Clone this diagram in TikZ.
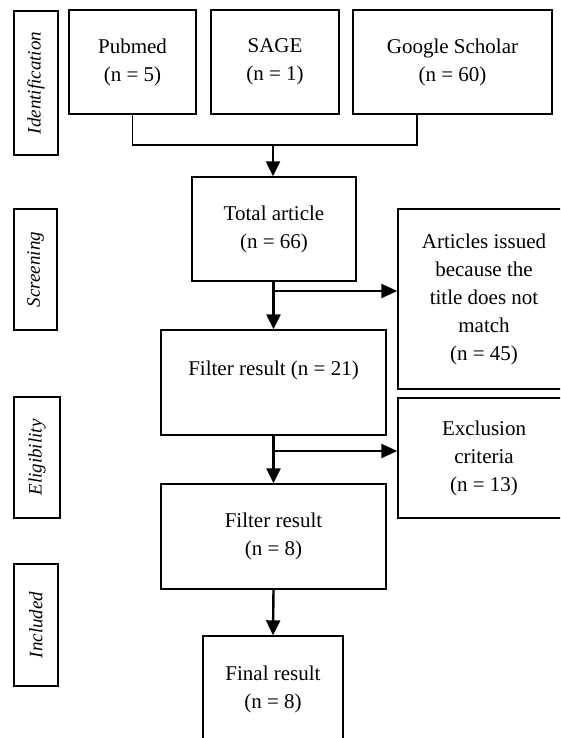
\documentclass[tikz,border=0pt]{standalone}
\usepackage{fontspec}
\setmainfont{Liberation Serif}
\usetikzlibrary{arrows.meta}
\begin{document}
\begin{tikzpicture}[x=1pt,y=-1pt,
  box/.style={draw,line width=1.4pt,align=center,inner sep=0pt,font=\fontsize{21}{28}\selectfont},
  side/.style={draw,line width=2.4pt,rotate=90,inner sep=0pt,font=\fontsize{19}{22}\selectfont\itshape},
  link/.style={line width=1.5pt},
  arr/.style={line width=2.4pt,-{Triangle[length=15pt,width=14pt]}},
  harr/.style={line width=2.2pt,-{Triangle[length=16pt,width=14pt]}}]
\clip (0,0) rectangle (560,738);
\fill[white] (0,0) rectangle (560,738);
% side labels
\node[side,minimum width=144pt,minimum height=44pt] (sid) at (36,83) {Identification};
\node[side,minimum width=121pt,minimum height=43pt] (ssc) at (35.5,269.5) {Screening};
\node[side,minimum width=121pt,minimum height=46pt] (sel) at (37,457.5) {Eligibility};
\node[side,minimum width=122pt,minimum height=44pt] (sin) at (36,625) {Included};
% source boxes
\node[box,minimum width=127pt,minimum height=104pt] (pub) at (132.5,62) {Pubmed\\(n = 5)};
\node[box,minimum width=128pt,minimum height=104pt] (sage) at (275,62) {SAGE\\(n = 1)};
\node[box,minimum width=199pt,minimum height=104pt] (gs) at (452.5,62) {Google Scholar\\(n = 60)};
% main flow
\node[box,minimum width=164pt,minimum height=104pt] (tot) at (274,229) {Total article\\(n = 66)};
\node[box,minimum width=225pt,minimum height=105pt] (f21) at (273.5,382.5) {Filter result (n = 21)\\ \mbox{}};
\node[box,minimum width=225pt,minimum height=105pt] (f8) at (273.5,536.5) {Filter result\\(n = 8)};
\node[box,minimum width=140pt,minimum height=106pt] (fin) at (273,689) {Final result\\(n = 8)};
% right boxes
\node[box,minimum width=172pt,minimum height=180pt] (art) at (484,299) {Articles issued\\because the\\title does not\\match\\(n = 45)};
\node[box,minimum width=172pt,minimum height=120pt] (exc) at (484,458) {Exclusion\\criteria\\(n = 13)};
% connectors
\coordinate (j1) at (273,145);
\coordinate (gsb) at (417,114);
\draw[link] (pub.south) |- (j1) -- (417,145) -- (gsb);
\draw[arr] (j1) -- (tot.north -| j1);
\draw[arr] (tot.south -| f21.north) -- (f21.north);
\coordinate (b1) at (273,291);
\draw[harr] (b1) -- (b1 -| art.west);
\draw[arr] (f21.south) -- (f8.north);
\coordinate (b2) at (273,451);
\draw[harr] (b2) -- (b2 -| exc.west);
\draw[arr] (f8.south) -- (fin.north);
\end{tikzpicture}
\end{document}
